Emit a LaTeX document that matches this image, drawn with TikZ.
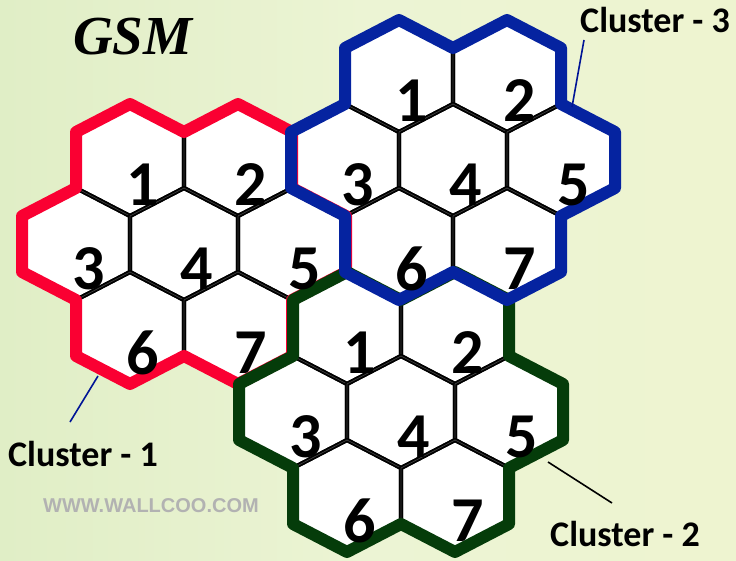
\documentclass[tikz,border=0pt]{standalone}
\usepackage{fontspec}
\setmainfont{Carlito}
\newfontfamily\gsmfont{Liberation Serif}
\newfontfamily\wmfont{Liberation Sans}
\definecolor{redc}{RGB}{250,0,50}
\definecolor{bluec}{RGB}{5,35,160}
\definecolor{greenc}{RGB}{5,60,10}
\definecolor{bgA}{RGB}{224,238,198}
\definecolor{bgM}{RGB}{236,244,212}
\definecolor{bgB}{RGB}{238,244,208}
\definecolor{leadblue}{RGB}{0,20,150}
\def\ha{54}
\def\hr{56}
\tikzset{
  hexfill/.style={fill=white},
  inneredge/.style={draw=black, line width=4.2pt, line join=round},
  innerhl/.style={draw=black!75, line width=0.7pt, line join=round},
  rim/.style={line width=12pt, line join=round},
  digit/.style={font=\bfseries\fontsize{64}{64}\selectfont, inner sep=0pt},
  clabel/.style={font=\bfseries\fontsize{36}{36}\selectfont, inner sep=0pt, anchor=base west},
  leader/.style={line width=1.6pt}
}
\newcommand\hexcell[2]{(#1,#2-\hr) -- (#1+\ha,#2-0.5*\hr) -- (#1+\ha,#2+0.5*\hr) -- (#1,#2+\hr) -- (#1-\ha,#2+0.5*\hr) -- (#1-\ha,#2-0.5*\hr) -- cycle}
\newcommand\rimpath[2]{(#1-\ha,#2-2.5*\hr) -- (#1,#2-2*\hr) -- (#1+\ha,#2-2.5*\hr) -- (#1+2*\ha,#2-2*\hr) -- (#1+2*\ha,#2-\hr) -- (#1+3*\ha,#2-0.5*\hr) -- (#1+3*\ha,#2+0.5*\hr) -- (#1+2*\ha,#2+\hr) -- (#1+2*\ha,#2+2*\hr) -- (#1+\ha,#2+2.5*\hr) -- (#1,#2+2*\hr) -- (#1-\ha,#2+2.5*\hr) -- (#1-2*\ha,#2+2*\hr) -- (#1-2*\ha,#2+\hr) -- (#1-3*\ha,#2+0.5*\hr) -- (#1-3*\ha,#2-0.5*\hr) -- (#1-2*\ha,#2-\hr) -- (#1-2*\ha,#2-2*\hr) -- cycle}
\newcommand\clusterfill[2]{%
  \foreach \i/\j in {-1/-1,1/-1,-2/0,0/0,2/0,-1/1,1/1}{%
    \pgfmathsetmacro\cx{#1+\i*\ha}\pgfmathsetmacro\cy{#2+\j*1.5*\hr}%
    \fill[hexfill] \hexcell{\cx}{\cy};}}
\newcommand\clusteredges[2]{%
  \foreach \i/\j in {-1/-1,1/-1,-2/0,0/0,2/0,-1/1,1/1}{%
    \pgfmathsetmacro\cx{#1+\i*\ha}\pgfmathsetmacro\cy{#2+\j*1.5*\hr}%
    \draw[inneredge] \hexcell{\cx}{\cy};
    \draw[innerhl] \hexcell{\cx}{\cy};}}
\newcommand\clusterdigits[3]{%
  \foreach \n/\i/\j in {1/-1/-1,2/1/-1,3/-2/0,4/0/0,5/2/0,6/-1/1,7/1/1}{%
    \pgfmathsetmacro\cx{#1+\i*\ha+13}\pgfmathsetmacro\cy{#2+\j*1.5*\hr+25}%
    \node[digit] (#3d\n) at (\cx,\cy) {\n};}}
\begin{document}
\begin{tikzpicture}[x=1pt,y=-1pt]
\useasboundingbox (0,0) rectangle (736,561);
\shade[left color=bgA, right color=bgB, middle color=bgM] (0,0) rectangle (736,561);
% cluster centres
\def\cAx{184}\def\cAy{244}
\def\cBx{401}\def\cBy{412}
\def\cCx{453}\def\cCy{160}
\clusterfill{\cAx}{\cAy}
\clusterfill{\cBx}{\cBy}
\clusterfill{\cCx}{\cCy}
\clusteredges{\cAx}{\cAy}
\clusteredges{\cBx}{\cBy}
\clusteredges{\cCx}{\cCy}
\draw[rim, redc] \rimpath{\cAx}{\cAy};
\draw[rim, greenc] \rimpath{\cBx}{\cBy};
\draw[rim, bluec] \rimpath{\cCx}{\cCy};
\clusterdigits{\cAx}{\cAy}{ca}
\clusterdigits{\cBx}{\cBy}{cb}
\clusterdigits{\cCx}{\cCy}{cc}
% title
\node[font=\gsmfont\bfseries\itshape\fontsize{55}{55}\selectfont, inner sep=0pt, anchor=base west] (gsm) at (73,55) {GSM};
% labels
\node[clabel] (lab1) at (8,466) {Cluster - 1};
\node[clabel] (lab2) at (550,546) {Cluster - 2};
\node[clabel] (lab3) at (580,33) {Cluster - 3};
% leaders
\coordinate (l1a) at (98,376);
\coordinate (l1b) at (70,422);
\coordinate (l2a) at (548,462);
\coordinate (l2b) at (612,503);
\coordinate (l3a) at (572,107);
\coordinate (l3b) at (584,40);
\draw[leader, leadblue] (l1a) -- (l1b);
\draw[leader, black] (l2a) -- (l2b);
\draw[leader, leadblue] (l3a) -- (l3b);
% watermark
\node[font=\wmfont\bfseries\fontsize{20}{20}\selectfont, inner sep=0pt, anchor=base west, text=black!30] (wm) at (43,512) {WWW.WALLCOO.COM};
\end{tikzpicture}
\end{document}
